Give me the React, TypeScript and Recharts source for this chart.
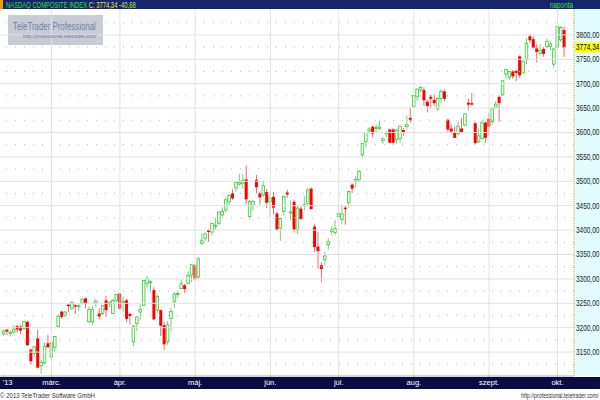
import React from 'react';
import { ComposedChart, Bar, XAxis, YAxis, ReferenceLine } from 'recharts';

// NASDAQ Composite, daily candles, 2013-02-08 .. 2013-10-03
const dates = [
  '2013-02-08', '2013-02-11', '2013-02-12', '2013-02-13', '2013-02-14', '2013-02-15', '2013-02-19', '2013-02-20',
  '2013-02-21', '2013-02-22', '2013-02-25', '2013-02-26', '2013-02-27', '2013-02-28',
  '2013-03-01', '2013-03-04', '2013-03-05', '2013-03-06', '2013-03-07', '2013-03-08', '2013-03-11', '2013-03-12',
  '2013-03-13', '2013-03-14', '2013-03-15', '2013-03-18', '2013-03-19', '2013-03-20', '2013-03-21', '2013-03-22',
  '2013-03-25', '2013-03-26', '2013-03-27', '2013-03-28',
  '2013-04-01', '2013-04-02', '2013-04-03', '2013-04-04', '2013-04-05', '2013-04-08', '2013-04-09', '2013-04-10',
  '2013-04-11', '2013-04-12', '2013-04-15', '2013-04-16', '2013-04-17', '2013-04-18', '2013-04-19', '2013-04-22',
  '2013-04-23', '2013-04-24', '2013-04-25', '2013-04-26', '2013-04-29', '2013-04-30',
  '2013-05-01', '2013-05-02', '2013-05-03', '2013-05-06', '2013-05-07', '2013-05-08', '2013-05-09', '2013-05-10',
  '2013-05-13', '2013-05-14', '2013-05-15', '2013-05-16', '2013-05-17', '2013-05-20', '2013-05-21', '2013-05-22',
  '2013-05-23', '2013-05-24', '2013-05-28', '2013-05-29', '2013-05-30', '2013-05-31',
  '2013-06-03', '2013-06-04', '2013-06-05', '2013-06-06', '2013-06-07', '2013-06-10', '2013-06-11', '2013-06-12',
  '2013-06-13', '2013-06-14', '2013-06-17', '2013-06-18', '2013-06-19', '2013-06-20', '2013-06-21', '2013-06-24',
  '2013-06-25', '2013-06-26', '2013-06-27', '2013-06-28',
  '2013-07-01', '2013-07-02', '2013-07-03', '2013-07-05', '2013-07-08', '2013-07-09', '2013-07-10', '2013-07-11',
  '2013-07-12', '2013-07-15', '2013-07-16', '2013-07-17', '2013-07-18', '2013-07-19', '2013-07-22', '2013-07-23',
  '2013-07-24', '2013-07-25', '2013-07-26', '2013-07-29', '2013-07-30', '2013-07-31',
  '2013-08-01', '2013-08-02', '2013-08-05', '2013-08-06', '2013-08-07', '2013-08-08', '2013-08-09', '2013-08-12',
  '2013-08-13', '2013-08-14', '2013-08-15', '2013-08-16', '2013-08-19', '2013-08-20', '2013-08-21', '2013-08-22',
  '2013-08-23', '2013-08-26', '2013-08-27', '2013-08-28', '2013-08-29', '2013-08-30',
  '2013-09-03', '2013-09-04', '2013-09-05', '2013-09-06', '2013-09-09', '2013-09-10', '2013-09-11', '2013-09-12',
  '2013-09-13', '2013-09-16', '2013-09-17', '2013-09-18', '2013-09-19', '2013-09-20', '2013-09-23', '2013-09-24',
  '2013-09-25', '2013-09-26', '2013-09-27', '2013-09-30',
  '2013-10-01', '2013-10-02', '2013-10-03',
];

const opens = [
  3187, 3196, 3188, 3191, 3203, 3202, 3198, 3212, 3155, 3147, 3178, 3122, 3128, 3168,
  3140, 3160, 3202, 3233, 3226, 3247, 3240, 3246, 3243, 3251, 3260, 3212, 3212, 3250, 3229, 3229, 3256, 3250, 3229, 3256,
  3270, 3251, 3256, 3228, 3171, 3209, 3232, 3246, 3291, 3293, 3277, 3236, 3236, 3205, 3171, 3219, 3253, 3268, 3280, 3287, 3291, 3308,
  3328, 3304, 3373, 3383, 3400, 3396, 3409, 3414, 3431, 3441, 3458, 3475, 3486, 3494, 3496, 3504, 3428, 3451, 3503, 3475, 3472, 3478,
  3458, 3468, 3434, 3404, 3438, 3477, 3435, 3458, 3400, 3444, 3451, 3455, 3485, 3407, 3366, 3328, 3340, 3370, 3397, 3395,
  3428, 3422, 3446, 3456, 3493, 3500, 3503, 3554, 3581, 3603, 3612, 3608, 3608, 3583, 3597, 3606, 3606, 3585, 3588, 3605, 3612, 3630,
  3653, 3673, 3687, 3687, 3663, 3673, 3667, 3648, 3670, 3684, 3626, 3608, 3601, 3598, 3608, 3615, 3661, 3660, 3619, 3581, 3588, 3620,
  3628, 3622, 3652, 3673, 3677, 3720, 3713, 3725, 3726, 3756, 3722, 3749, 3797, 3791, 3772, 3762, 3771, 3776, 3776, 3740,
  3775, 3790, 3810,
];

const highs = [
  3196, 3197, 3194, 3205, 3206, 3206, 3214, 3215, 3158, 3162, 3196, 3134, 3170, 3185,
  3172, 3183, 3227, 3234, 3235, 3250, 3254, 3250, 3250, 3260, 3262, 3244, 3245, 3259, 3240, 3246, 3265, 3254, 3259, 3270,
  3271, 3264, 3260, 3231, 3206, 3223, 3248, 3298, 3306, 3297, 3283, 3268, 3237, 3212, 3213, 3240, 3273, 3274, 3299, 3290, 3315, 3330,
  3331, 3344, 3393, 3395, 3402, 3415, 3425, 3438, 3447, 3466, 3473, 3483, 3499, 3515, 3515, 3532, 3462, 3461, 3513, 3479, 3502, 3484,
  3470, 3478, 3438, 3425, 3471, 3483, 3460, 3462, 3450, 3450, 3470, 3487, 3487, 3412, 3396, 3334, 3356, 3383, 3408, 3420,
  3454, 3452, 3450, 3481, 3496, 3510, 3524, 3579, 3601, 3611, 3614, 3616, 3625, 3590, 3603, 3608, 3609, 3607, 3614, 3609, 3635, 3652,
  3677, 3690, 3694, 3693, 3666, 3678, 3678, 3672, 3689, 3688, 3628, 3616, 3612, 3623, 3630, 3640, 3670, 3681, 3622, 3609, 3625, 3623,
  3640, 3651, 3664, 3676, 3708, 3730, 3726, 3728, 3728, 3758, 3747, 3793, 3801, 3797, 3781, 3780, 3775, 3792, 3785, 3774,
  3821, 3818, 3817,
];

const lows = [
  3184, 3185, 3182, 3188, 3190, 3187, 3195, 3163, 3124, 3140, 3116, 3105, 3125, 3158,
  3130, 3150, 3200, 3218, 3221, 3232, 3236, 3228, 3234, 3247, 3240, 3210, 3205, 3242, 3217, 3226, 3222, 3243, 3228, 3252,
  3236, 3233, 3211, 3206, 3162, 3193, 3216, 3244, 3282, 3272, 3216, 3230, 3183, 3154, 3165, 3192, 3241, 3261, 3279, 3271, 3289, 3294,
  3296, 3300, 3370, 3378, 3376, 3389, 3400, 3410, 3428, 3436, 3450, 3462, 3478, 3492, 3485, 3453, 3422, 3440, 3475, 3452, 3468, 3445,
  3425, 3433, 3398, 3378, 3430, 3466, 3420, 3395, 3392, 3420, 3440, 3450, 3442, 3355, 3321, 3294, 3328, 3360, 3390, 3390,
  3424, 3412, 3411, 3446, 3476, 3487, 3498, 3548, 3569, 3598, 3590, 3600, 3605, 3577, 3590, 3578, 3575, 3576, 3580, 3593, 3606, 3620,
  3650, 3665, 3682, 3655, 3641, 3650, 3655, 3645, 3660, 3665, 3600, 3600, 3588, 3594, 3598, 3613, 3645, 3655, 3577, 3578, 3585, 3579,
  3595, 3615, 3650, 3622, 3675, 3710, 3708, 3710, 3705, 3712, 3720, 3740, 3784, 3772, 3743, 3758, 3755, 3773, 3768, 3733,
  3772, 3785, 3755,
];

const closes = [
  3193, 3192, 3191, 3197, 3196, 3194, 3213, 3164, 3131, 3161, 3118, 3129, 3162, 3160,
  3169, 3182, 3224, 3222, 3232, 3244, 3252, 3243, 3245, 3258, 3249, 3237, 3238, 3254, 3223, 3245, 3236, 3252, 3256, 3268,
  3239, 3254, 3218, 3224, 3203, 3222, 3237, 3297, 3301, 3294, 3217, 3264, 3204, 3166, 3206, 3233, 3269, 3270, 3290, 3279, 3307, 3329,
  3299, 3341, 3378, 3392, 3396, 3414, 3410, 3437, 3438, 3462, 3471, 3465, 3498, 3497, 3502, 3463, 3459, 3459, 3488, 3467, 3491, 3456,
  3466, 3446, 3401, 3424, 3469, 3473, 3437, 3401, 3445, 3423, 3452, 3482, 3443, 3365, 3357, 3320, 3347, 3376, 3401, 3403,
  3434, 3433, 3443, 3479, 3485, 3504, 3520, 3578, 3600, 3607, 3598, 3610, 3611, 3587, 3600, 3579, 3579, 3605, 3613, 3599, 3616, 3626,
  3676, 3689, 3692, 3666, 3654, 3669, 3660, 3670, 3684, 3669, 3606, 3602, 3589, 3613, 3599, 3638, 3657, 3657, 3578, 3593, 3620, 3589,
  3612, 3649, 3658, 3660, 3706, 3729, 3725, 3715, 3722, 3717, 3745, 3783, 3789, 3774, 3765, 3768, 3761, 3787, 3781, 3771,
  3817, 3815, 3774.34,
];

const monthTicks = ['2013-02-08', '2013-03-01', '2013-04-01', '2013-05-01', '2013-06-03', '2013-07-01', '2013-08-01', '2013-09-03', '2013-10-01'];
const monthLabels = ["'13", 'márc.', 'ápr.', 'máj.', 'jún.', 'júl.', 'aug.', 'szept.', 'okt.'];

const priceTicks = [3150, 3200, 3250, 3300, 3350, 3400, 3450, 3500, 3550, 3600, 3650, 3700, 3750, 3800];
const minorTicks = [3125, 3175, 3225, 3275, 3325, 3375, 3425, 3475, 3525, 3575, 3625, 3675, 3725, 3775, 3825];

const lastClose = closes[closes.length - 1];
const change = -40.68;

const data = dates.map((d, i) => ({
  date: d,
  open: opens[i],
  high: highs[i],
  low: lows[i],
  close: closes[i],
  range: [lows[i], highs[i]],
}));

const FONT = "'Liberation Sans', Arial, sans-serif";
const fmt = (v: number) => v.toFixed(2).replace('.', ',');

// horizontally squeezed text, the original uses a narrow bitmap font
const Narrow = ({ x, y, size, sx, fill, children }: any) => (
  <text transform={`translate(${x},${y}) scale(${sx},1)`} fontSize={size} fill={fill} fontFamily={FONT}>
    {children}
  </text>
);

const Candle = (props: any) => {
  const { x, y, width, height, payload } = props;
  const { open, close, high, low } = payload;
  const ppu = high === low ? 0 : height / (high - low);
  const cx = x + width / 2;
  const up = close >= open;
  const top = y + (high - Math.max(open, close)) * ppu;
  const bot = y + (high - Math.min(open, close)) * ppu;
  const bh = Math.max(bot - top, 1);
  return (
    <g>
      <line x1={cx} x2={cx} y1={y} y2={y + height} stroke={up ? '#6fd86f' : '#f46a6a'} strokeWidth={1} />
      {up ? (
        <rect x={cx - 1.3} y={top} width={2.6} height={bh} fill="#effdef" stroke="#3dc63d" strokeWidth={0.8} />
      ) : (
        <rect x={cx - 1.5} y={top} width={3} height={bh} fill="#ff0000" />
      )}
    </g>
  );
};

const MonthTick = (props: any) => {
  const { x, y, payload, index } = props;
  const label = monthLabels[monthTicks.indexOf(payload.value)] ?? '';
  return (
    <g>
      <line x1={x} x2={x} y1={y - 1} y2={y + 1} stroke="#c8b860" />
      <text
        x={index === 0 ? x - 1 : x}
        y={y + 9}
        textAnchor={index === 0 ? 'start' : 'middle'}
        fill="#ffffff"
        fontSize={7.5}
        fontFamily={FONT}
      >
        {label}
      </text>
    </g>
  );
};

const PriceTick = (props: any) => {
  const { y, payload } = props;
  return (
    <Narrow x={576} y={y + 3} size={8.5} sx={0.76} fill="#1a1a1a">
      {fmt(payload.value)}
    </Narrow>
  );
};

const LastPrice = (props: any) => {
  const { viewBox } = props;
  const px = viewBox.x + viewBox.width + 1;
  return (
    <g>
      <rect x={px} y={viewBox.y - 5} width={25} height={10} fill="#ffff00" />
      <Narrow x={px + 1} y={viewBox.y + 3} size={8.5} sx={0.76} fill="#000">
        {fmt(lastClose)}
      </Narrow>
    </g>
  );
};

export default function App() {
  return (
    <div style={{ position: 'relative', width: 600, height: 400, background: '#fff', overflow: 'hidden', fontFamily: FONT }}>
      <style>{'body{margin:0}'}</style>
      {/* header bar, axis panel, bottom bar */}
      <div style={{ position: 'absolute', left: 0, top: 0, width: 600, height: 9, background: '#16246e' }} />
      <div style={{ position: 'absolute', left: 0, top: 0, width: 3, height: 9, background: '#f0a000' }} />
      <div style={{ position: 'absolute', left: 574, top: 9, width: 26, height: 367, background: '#e2fcfe' }} />
      <div style={{ position: 'absolute', left: 0, top: 377, width: 600, height: 12, background: '#0c0c44' }} />
      {/* logo */}
      <div style={{ position: 'absolute', left: 8, top: 15, width: 95, height: 30, background: '#c9ccd3' }} />

      <div style={{ position: 'absolute', left: 0, top: 0 }}>
        <ComposedChart width={600} height={389} data={data} margin={{ top: 9, right: 0, bottom: 0, left: 0 }} barCategoryGap={0}>
          {priceTicks.map((v) => (
            <ReferenceLine key={'h' + v} y={v} stroke="#e6e0e6" strokeWidth={1} />
          ))}
          {minorTicks.map((v) => (
            <ReferenceLine key={'m' + v} y={v} stroke="#b8b8b8" strokeWidth={1} strokeDasharray="1 8" />
          ))}
          {monthTicks.slice(1).map((d) => (
            <ReferenceLine key={'v' + d} x={d} stroke="#e2e2e2" strokeWidth={1} />
          ))}
          <XAxis
            dataKey="date"
            ticks={monthTicks}
            interval={0}
            height={13}
            tickSize={0}
            tickMargin={0}
            tick={<MonthTick />}
            axisLine={{ stroke: '#b0b0b0' }}
            padding={{ left: 2, right: 8 }}
          />
          <YAxis
            orientation="right"
            width={26}
            domain={[3101, 3853]}
            ticks={priceTicks}
            allowDataOverflow
            tickLine={false}
            tickSize={0}
            tick={<PriceTick />}
            axisLine={{ stroke: '#c8b040', strokeDasharray: '1 1' }}
          />
          <Bar dataKey="range" shape={<Candle />} isAnimationActive={false} />
          <ReferenceLine y={lastClose} stroke="none" label={<LastPrice />} />
        </ComposedChart>
      </div>

      {/* header, logo and footer texts */}
      <svg width={600} height={400} style={{ position: 'absolute', left: 0, top: 0, pointerEvents: 'none' }}>
        <text transform="translate(6,8) scale(0.69,1)" fontSize={8.5} fontFamily={FONT}>
          <tspan fill="#30e030">NASDAQ COMPOSITE INDEX </tspan>
          <tspan fill="#e8f020">C: {fmt(lastClose)} </tspan>
          <tspan fill="#b4f040">{fmt(change)}</tspan>
        </text>
        <Narrow x={550} y={8} size={8.5} sx={0.75} fill="#30e030">naponta</Narrow>
        <Narrow x={13} y={30} size={11.5} sx={0.685} fill="#6b7fae">TeleTrader Professional</Narrow>
        <Narrow x={23} y={38} size={6} sx={0.83} fill="#6b7fae">http://professional.teletrader.com/</Narrow>
        <Narrow x={0} y={398} size={8} sx={0.76} fill="#333">© 2013 TeleTrader Software GmbH</Narrow>
        <Narrow x={521} y={398} size={7.5} sx={0.7} fill="#333">http://professional.teletrader.com/</Narrow>
      </svg>
    </div>
  );
}
